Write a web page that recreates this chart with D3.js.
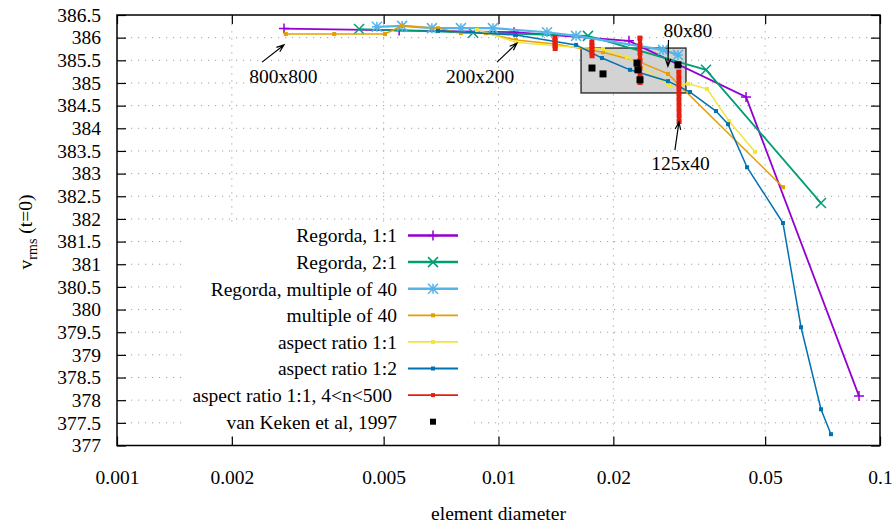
<!DOCTYPE html>
<html>
<head>
    <title>vrms vs element diameter</title>
    <script src="https://d3js.org/d3.v7.min.js"></script>
    <style>
        body { margin: 0; background: #fff; }
    </style>
</head>
<body>
    <div id="chart"></div>
    <script>
// values
const xTicks = [0.001, 0.002, 0.005, 0.01, 0.02, 0.05, 0.1];
const yTicks = [377, 377.5, 378, 378.5, 379, 379.5, 380, 380.5, 381, 381.5, 382, 382.5, 383, 383.5, 384, 384.5, 385, 385.5, 386, 386.5];

const regorda11D = [0.00274, 0.00549, 0.01098, 0.02198, 0.04455, 0.0881];
const regorda11V = [386.20, 386.16, 386.12, 385.93, 384.69, 378.09];

const regorda21D = [0.00431, 0.00858, 0.01716, 0.03499, 0.07003];
const regorda21V = [386.19, 386.11, 386.04, 385.29, 382.35];

const regorda40D = [0.0048, 0.00559, 0.00669, 0.00797, 0.00967, 0.0134, 0.01597, 0.02699, 0.02954];
const regorda40V = [386.24, 386.26, 386.21, 386.21, 386.21, 386.12, 386.04, 385.73, 385.62];

const mult40D = [0.00277, 0.00371, 0.00504, 0.00559, 0.00694, 0.00797, 0.00927, 0.01111, 0.01407, 0.01879, 0.02349, 0.02782, 0.05568];
const mult40V = [386.08, 386.08, 386.08, 386.26, 386.21, 386.10, 386.10, 385.95, 385.86, 385.68, 385.46, 385.20, 382.70];

const aspect11D = [0.00878, 0.01111, 0.01407, 0.01879, 0.02172, 0.02815, 0.03138, 0.0352, 0.0402, 0.04702];
const aspect11V = [386.17, 385.90, 385.82, 385.75, 385.57, 384.93, 384.98, 384.87, 384.16, 383.48];

const aspect12D = [0.00694, 0.01111, 0.01597, 0.01867, 0.02212, 0.02782, 0.03177, 0.03716, 0.03996, 0.04482, 0.05568, 0.06209, 0.07003, 0.07438];
const aspect12V = [386.15, 386.06, 385.84, 385.55, 385.29, 385.04, 384.80, 384.38, 384.09, 383.14, 381.91, 379.61, 377.80, 377.25];

// aspect ratio 1:1, 4<n<500 : four groups of nearly equal diameter
const redD1 = [0.01406, 0.01407, 0.01407, 0.01407, 0.01408];
const redV1 = [386.00, 385.94, 385.88, 385.82, 385.76];
const redD2 = [0.01757, 0.01758, 0.01758, 0.01758, 0.01759];
const redV2 = [385.90, 385.82, 385.75, 385.67, 385.60];
const redD3 = [0.02348, 0.02349, 0.02349, 0.02349, 0.02349, 0.02350, 0.02350];
const redV3 = [385.99, 385.83, 385.66, 385.50, 385.33, 385.17, 385.01];
const redD4 = [0.02970, 0.02971, 0.02971, 0.02972, 0.02972, 0.02972, 0.02973, 0.02973, 0.02974, 0.02974];
const redV4 = [385.24, 385.12, 385.00, 384.88, 384.76, 384.64, 384.52, 384.40, 384.28, 384.15];

const vanKekenD = [0.01758, 0.01879, 0.02307, 0.0232, 0.02349, 0.02954];
const vanKekenV = [385.33, 385.20, 385.44, 385.29, 385.07, 385.40];

const boxD = [0.01646, 0.0310];
const boxV = [384.78, 385.77];

const labels = ['800x800', '200x200', '80x80', '125x40'];
const labelD = [0.00273, 0.00895, 0.03138, 0.0300];
const labelV = [385.0, 385.0, 386.01, 383.08];
// arrows: tail -> head
const arrowD = [[0.0024, 0.00274], [0.00991, 0.01118], [0.0279, 0.0278], [0.0290, 0.02972]];
const arrowV = [[385.46, 385.84], [385.46, 385.88], [385.95, 385.37], [383.52, 384.14]];

const zip = (ds, vs) => ds.map((d, i) => ({ d: d, v: vs[i] }));

const series = [
    { name: 'Regorda, 1:1', color: '#9400d3', marker: 'plus', lw: 1.8, groups: [zip(regorda11D, regorda11V)] },
    { name: 'Regorda, 2:1', color: '#009e73', marker: 'cross', lw: 1.8, groups: [zip(regorda21D, regorda21V)] },
    { name: 'Regorda, multiple of 40', color: '#56b4e9', marker: 'star', lw: 2.2, groups: [zip(regorda40D, regorda40V)] },
    { name: 'multiple of 40', color: '#e69f00', marker: 'square', lw: 1.5, groups: [zip(mult40D, mult40V)] },
    { name: 'aspect ratio 1:1', color: '#f0e442', marker: 'square', lw: 1.5, groups: [zip(aspect11D, aspect11V)] },
    { name: 'aspect ratio 1:2', color: '#0072b2', marker: 'square', lw: 1.5, groups: [zip(aspect12D, aspect12V)] },
    { name: 'aspect ratio 1:1, 4<n<500', color: '#e51e10', marker: 'square', lw: 4, red: true,
      groups: [zip(redD1, redV1), zip(redD2, redV2), zip(redD3, redV3), zip(redD4, redV4)] }
];

const FONT = '"Liberation Serif", "Times New Roman", Times, "DejaVu Serif", serif';
const FS = 19.5;

const width = 893;
const height = 526;
const margin = { left: 117, right: 13, top: 15, bottom: 80.5 };

const svg = d3.select('#chart')
    .append('svg')
    .attr('width', width)
    .attr('height', height)
    .attr('font-family', FONT)
    .attr('font-size', FS);

const x = d3.scaleLog()
    .domain([0.001, 0.1])
    .range([margin.left, width - margin.right]);

const y = d3.scaleLinear()
    .domain([377, 386.5])
    .range([height - margin.bottom, margin.top]);

const x0 = x.range()[0], x1 = x.range()[1];
const y0 = y.range()[0], y1 = y.range()[1];

// grid
const grid = svg.append('g').attr('class', 'grid')
    .attr('stroke', '#a0a0a0')
    .attr('stroke-width', 1)
    .attr('stroke-dasharray', '1.2,5.8');

grid.selectAll('line.gx')
    .data(xTicks.slice(1, -1))
    .enter()
    .append('line')
    .attr('x1', d => x(d)).attr('x2', d => x(d))
    .attr('y1', y0).attr('y2', y1);

grid.selectAll('line.gy')
    .data(yTicks.slice(1, -1))
    .enter()
    .append('line')
    .attr('x1', x0).attr('x2', x1)
    .attr('y1', d => y(d)).attr('y2', d => y(d));

// axes with inward ticks on every side
const axes = svg.append('g').attr('class', 'axes');
axes.append('g')
    .attr('transform', `translate(0,${y0})`)
    .call(d3.axisBottom(x).tickValues(xTicks).tickFormat(d => String(d)).tickSize(-9).tickPadding(25));
axes.append('g')
    .attr('transform', `translate(0,${y1})`)
    .call(d3.axisTop(x).tickValues(xTicks).tickFormat('').tickSize(-9));
axes.append('g')
    .attr('transform', `translate(${x0},0)`)
    .call(d3.axisLeft(y).tickValues(yTicks).tickFormat(d => String(d)).tickSize(-9).tickPadding(16));
axes.append('g')
    .attr('transform', `translate(${x1},0)`)
    .call(d3.axisRight(y).tickValues(yTicks).tickFormat('').tickSize(-9));

axes.selectAll('g').attr('font-family', FONT).attr('font-size', FS);
axes.selectAll('.domain').remove();
axes.selectAll('.tick line').attr('stroke', '#000').attr('stroke-width', 1.2);
axes.selectAll('.tick text').attr('fill', '#000');

// gray box
svg.append('rect')
    .attr('x', x(boxD[0]))
    .attr('y', y(boxV[1]))
    .attr('width', x(boxD[1]) - x(boxD[0]))
    .attr('height', y(boxV[0]) - y(boxV[1]))
    .attr('fill', '#d3d3d3')
    .attr('stroke', '#3a3a3a')
    .attr('stroke-width', 1.5);

// markers
function drawMarker(g, type, cx, cy, color, s) {
    if (type === 'square') {
        g.append('rect')
            .attr('x', cx - s / 2).attr('y', cy - s / 2)
            .attr('width', s).attr('height', s)
            .attr('fill', color);
        return;
    }
    const h = s / 2;
    const p = d3.path();
    if (type === 'plus' || type === 'star') {
        p.moveTo(cx - h, cy); p.lineTo(cx + h, cy);
        p.moveTo(cx, cy - h); p.lineTo(cx, cy + h);
    }
    if (type === 'cross' || type === 'star') {
        p.moveTo(cx - h, cy - h); p.lineTo(cx + h, cy + h);
        p.moveTo(cx - h, cy + h); p.lineTo(cx + h, cy - h);
    }
    g.append('path').attr('d', p.toString())
        .attr('stroke', color).attr('stroke-width', 1.5).attr('fill', 'none');
}

const line = d3.line()
    .x(d => x(d.d))
    .y(d => y(d.v));

const plot = svg.append('g').attr('class', 'series');

series.forEach(s => {
    const g = plot.append('g');
    s.groups.forEach(pts => {
        g.append('path')
            .attr('d', line(pts))
            .attr('fill', 'none')
            .attr('stroke', s.color)
            .attr('stroke-width', s.lw);
        pts.forEach(p => drawMarker(g, s.marker, x(p.d), y(p.v), s.color,
            s.marker === 'square' ? (s.red ? 5 : 4) : 10));
    });
});

// van Keken points
plot.append('g')
    .selectAll('rect')
    .data(zip(vanKekenD, vanKekenV))
    .enter()
    .append('rect')
    .attr('x', d => x(d.d) - 3.5)
    .attr('y', d => y(d.v) - 3.5)
    .attr('width', 7)
    .attr('height', 7)
    .attr('fill', '#000');

// annotations
const ann = svg.append('g').attr('class', 'annotations');
arrowD.forEach((ds, i) => {
    const ax = x(ds[0]), ay = y(arrowV[i][0]);
    const bx = x(ds[1]), by = y(arrowV[i][1]);
    const ang = Math.atan2(by - ay, bx - ax);
    const L = 8, w = 0.35;
    const p = d3.path();
    p.moveTo(ax, ay); p.lineTo(bx, by);
    p.moveTo(bx - L * Math.cos(ang - w), by - L * Math.sin(ang - w));
    p.lineTo(bx, by);
    p.lineTo(bx - L * Math.cos(ang + w), by - L * Math.sin(ang + w));
    ann.append('path').attr('d', p.toString())
        .attr('stroke', '#000').attr('stroke-width', 1.2).attr('fill', 'none');
});
ann.selectAll('text')
    .data(labels)
    .enter()
    .append('text')
    .attr('x', (d, i) => x(labelD[i]))
    .attr('y', (d, i) => y(labelV[i]))
    .attr('text-anchor', 'middle')
    .text(d => d);

// frame
svg.append('rect')
    .attr('x', x0).attr('y', y1)
    .attr('width', x1 - x0).attr('height', y0 - y1)
    .attr('fill', 'none')
    .attr('stroke', '#000')
    .attr('stroke-width', 1.5);

// legend (opaque)
const legendEntries = series.map(s => ({ name: s.name, color: s.color, marker: s.marker }))
    .concat([{ name: 'van Keken et al, 1997', color: '#000', marker: 'black' }]);

const legend = svg.append('g').attr('class', 'legend');
legend.append('rect')
    .attr('x', 183).attr('y', 222)
    .attr('width', 285).attr('height', 212)
    .attr('fill', '#fff');

legendEntries.forEach((e, i) => {
    const ly = 235.5 + i * 26.6;
    legend.append('text')
        .attr('x', i === 6 ? 392 : 397)
        .attr('y', ly)
        .attr('dy', '0.35em')
        .attr('text-anchor', 'end')
        .text(e.name);
    if (e.marker === 'black') {
        legend.append('rect')
            .attr('x', 430).attr('y', ly - 3).attr('width', 6).attr('height', 6)
            .attr('fill', '#000');
        return;
    }
    legend.append('line')
        .attr('x1', 408).attr('x2', 458)
        .attr('y1', ly).attr('y2', ly)
        .attr('stroke', e.color)
        .attr('stroke-width', i < 3 ? 2.5 : 1.8);
    drawMarker(legend, e.marker, 433, ly, e.color, e.marker === 'square' ? 4 : 10);
});

// axis titles
svg.append('text')
    .attr('x', (x0 + x1) / 2)
    .attr('y', 520)
    .attr('text-anchor', 'middle')
    .text('element diameter');

const yt = svg.append('text')
    .attr('transform', 'translate(32,232) rotate(-90)')
    .attr('text-anchor', 'middle');
yt.append('tspan').text('v');
yt.append('tspan').attr('dy', 5).attr('font-size', 14).text('rms');
yt.append('tspan').attr('dy', -5).text(' (t=0)');

    </script>
</body>
</html>
